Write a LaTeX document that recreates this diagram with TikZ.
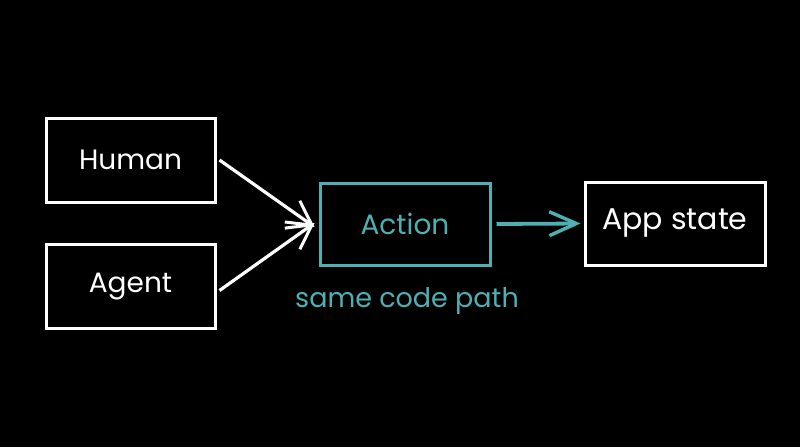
\documentclass[tikz,border=0pt]{standalone}
\usepackage{fontspec}
\setmainfont{Poppins}
\usetikzlibrary{arrows.meta}
\definecolor{teal1}{HTML}{4FB0B4}
\begin{document}
\begin{tikzpicture}[x=1pt,y=-1pt,
  box/.style={draw=white, line width=3pt, minimum width=169pt, minimum height=84pt, inner sep=0pt, font=\fontsize{28}{32}\selectfont, text=white},
  conn/.style={draw=white, line width=3.2pt, -{Straight Barb[length=24pt,width=26pt,line width=3pt]}}]
\fill[black] (0,0) rectangle (800,447);
\useasboundingbox (0,0) rectangle (800,447);
\node[box] (human) at (130.5,160) {Human};
\node[box] (agent) at (130.5,286.5) {Agent};
\node[box, draw=teal1, text=teal1, minimum width=170pt, minimum height=82pt] (action) at (405,224) {Action};
\node[box, minimum width=180pt, minimum height=83pt, font=\fontsize{30}{34}\selectfont] (app) at (675,223.5) {App state};
\node[text=teal1, font=\fontsize{27}{30}\selectfont] (same) at (407,301) {same code path};
\draw[conn] (human.east) ++(3,0) coordinate (h1) -- ([xshift=-4pt,yshift=-3pt]action.west);
\draw[conn] (agent.east) ++(3,4) coordinate (a1) -- ([xshift=-4pt,yshift=1pt]action.west);
\draw[conn, draw=teal1, line width=3.8pt, -{Straight Barb[length=27pt,width=24pt,line width=3.4pt]}] ([xshift=5pt]action.east) -- ([xshift=-3pt]app.west);
\end{tikzpicture}
\end{document}
